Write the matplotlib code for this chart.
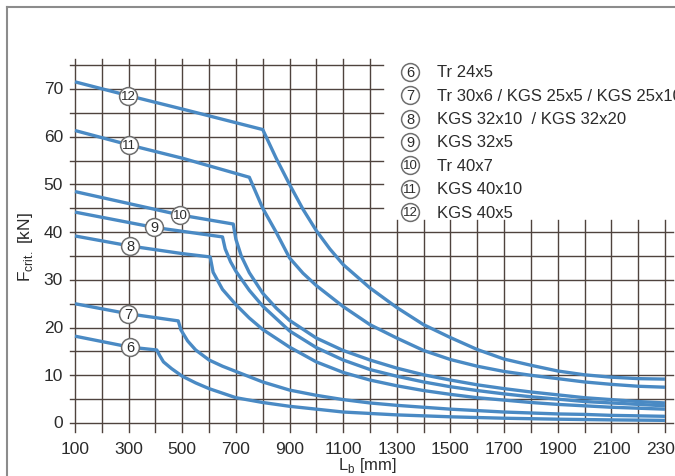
import matplotlib
matplotlib.use("Agg")
import matplotlib.pyplot as plt
from matplotlib.lines import Line2D

plt.rcParams["font.family"] = ["Liberation Sans", "DejaVu Sans"]
plt.rcParams["mathtext.fontset"] = "custom"
plt.rcParams["mathtext.rm"] = "Liberation Sans"

# Palette
LINE_COLOR = "#4a8ac4"
GRID_COLOR = "#4f433e"
TEXT_COLOR = "#2b2b2b"
FRAME_COLOR = "#8c8c8c"

# Data: L_b [mm] -> F_crit [kN]
x6 = [100, 305, 405, 415, 430, 460, 500, 550, 600, 700, 800, 900, 1000, 1100, 1200,
      1300, 1400, 1500, 1700, 1900, 2100, 2300]
y6 = [18.2, 15.9, 15.3, 14.2, 12.8, 11.4, 9.8, 8.4, 7.2, 5.3, 4.3, 3.5, 2.9, 2.3, 2.0,
      1.7, 1.5, 1.3, 1.0, 0.8, 0.65, 0.55]

x7 = [100, 298, 485, 495, 520, 550, 600, 650, 700, 800, 900, 1000, 1100, 1200, 1300,
      1400, 1500, 1600, 1700, 1800, 1900, 2000, 2100, 2200, 2300]
y7 = [25.0, 22.9, 21.4, 19.5, 17.2, 15.3, 13.2, 11.9, 10.8, 8.6, 6.9, 5.8, 4.9, 4.2, 3.7,
      3.3, 2.9, 2.6, 2.3, 2.1, 1.9, 1.8, 1.6, 1.5, 1.4]

x8 = [100, 305, 500, 604, 615, 650, 700, 750, 800, 900, 1000, 1100, 1200, 1300, 1400,
      1500, 1600, 1700, 1800, 1900, 2000, 2100, 2200, 2300]
y8 = [39.2, 37.1, 35.5, 34.8, 31.6, 28.0, 24.8, 22.0, 19.6, 15.9, 12.8, 10.6, 9.0, 7.8, 6.8,
      6.0, 5.3, 4.8, 4.3, 3.9, 3.6, 3.3, 3.1, 2.9]

x9 = [100, 395, 650, 660, 680, 700, 750, 800, 900, 1000, 1100, 1200, 1300, 1400, 1500,
      1600, 1700, 1800, 1900, 2000, 2100, 2200, 2300]
y9 = [44.2, 41.0, 39.0, 36.5, 33.8, 31.8, 27.8, 24.5, 19.3, 15.8, 13.2, 11.2, 9.8, 8.6, 7.6,
      6.8, 6.1, 5.5, 5.0, 4.5, 4.2, 3.9, 3.6]

x10 = [100, 492, 690, 700, 720, 750, 800, 850, 900, 1000, 1100, 1200, 1300, 1400, 1500,
       1600, 1700, 1800, 1900, 2000, 2100, 2200, 2300]
y10 = [48.5, 43.6, 41.7, 38.5, 35.0, 31.5, 27.2, 24.1, 21.5, 17.8, 15.2, 13.2, 11.5, 10.1, 9.0,
       8.0, 7.2, 6.5, 5.9, 5.3, 4.9, 4.5, 4.2]

x11 = [100, 300, 500, 750, 800, 850, 900, 950, 1000, 1100, 1200, 1300, 1400, 1500, 1600,
       1700, 1800, 1900, 2000, 2100, 2200, 2300]
y11 = [61.3, 58.3, 55.5, 51.5, 45.0, 40.0, 34.6, 31.4, 28.8, 24.4, 20.6, 17.8, 15.2, 13.3, 11.9,
       10.8, 10.0, 9.3, 8.6, 8.1, 7.7, 7.5]

x12 = [100, 300, 500, 800, 850, 900, 950, 1000, 1050, 1100, 1200, 1300, 1400, 1500, 1600,
       1700, 1800, 1900, 2000, 2100, 2200, 2300]
y12 = [71.5, 68.6, 65.8, 61.5, 55.5, 50.0, 44.8, 40.3, 36.5, 33.2, 28.3, 24.2, 20.6, 17.9, 15.4,
       13.4, 12.1, 10.9, 10.1, 9.6, 9.3, 9.2]

curve_ids = ["6", "7", "8", "9", "10", "11", "12"]
curve_x = [x6, x7, x8, x9, x10, x11, x12]
curve_y = [y6, y7, y8, y9, y10, y11, y12]
label_x = [305, 298, 305, 395, 492, 300, 298]
label_y = [15.9, 22.9, 37.1, 41.0, 43.6, 58.3, 68.6]

legend_names = ["Tr 24x5", "Tr 30x6 / KGS 25x5 / KGS 25x10", "KGS 32x10  / KGS 32x20",
                "KGS 32x5", "Tr 40x7", "KGS 40x10", "KGS 40x5"]
legend_y = [73.6, 68.7, 63.8, 58.9, 54.0, 49.1, 44.2]

x_ticks = list(range(100, 2400, 200))
y_ticks = list(range(0, 80, 10))

fig = plt.figure(figsize=(6.75, 4.77), dpi=100)
fig.patch.set_facecolor("white")
ax = fig.add_axes([75 / 675, 53 / 477, 590 / 675, 334 / 477])
ax.set_xlim(100, 2300)
ax.set_ylim(0, 70)
ax.axis("off")

# grid with a cut-out in the upper right for the legend
for xv in range(100, 2400, 100):
    top = 76.3 if xv <= 1200 else 42.5
    ax.plot([xv, xv], [-1.8, top], color=GRID_COLOR, lw=1.0, clip_on=False, zorder=1)
for yv in range(0, 80, 5):
    right = 1250 if yv >= 45 else 2328
    ax.plot([81, right], [yv, yv], color=GRID_COLOR, lw=1.0, clip_on=False, zorder=1)

# curves
for cx, cy in zip(curve_x, curve_y):
    ax.plot(cx, cy, color=LINE_COLOR, lw=2.4, clip_on=False, zorder=3,
            solid_joinstyle="round", solid_capstyle="butt")


def circled(x, y, cid):
    ax.scatter([x], [y], s=165, facecolor="white", edgecolor="#6e6e6e",
               linewidth=1.1, zorder=4, clip_on=False)
    ax.text(x, y, cid, fontsize=10.5 if len(cid) == 1 else 9.5, color=TEXT_COLOR,
            ha="center", va="center", zorder=5)


# numbered circles on the curves
for cid, lx, ly in zip(curve_ids, label_x, label_y):
    circled(lx, ly, cid)

# legend
for cid, name, ly in zip(curve_ids, legend_names, legend_y):
    circled(1349, ly, cid)
    ax.text(1450, ly, name, fontsize=12, color=TEXT_COLOR, ha="left", va="center",
            zorder=5, clip_on=False)

# tick labels
for xv in x_ticks:
    ax.text(xv, -5.3, str(xv), fontsize=12.5, color=TEXT_COLOR, ha="center",
            va="center", clip_on=False)
for yv in y_ticks:
    ax.text(55, yv, str(yv), fontsize=12.5, color=TEXT_COLOR, ha="right",
            va="center", clip_on=False)

ax.text(1190, -8.7, r"L$_\mathrm{b}$ [mm]", fontsize=12, color=TEXT_COLOR,
        ha="center", va="center", clip_on=False)
ax.text(-84, 37, r"F$_\mathrm{crit.}$ [kN]", fontsize=12.5, color=TEXT_COLOR,
        ha="center", va="center", rotation=90, clip_on=False)

# open frame (left and top)
fig.add_artist(Line2D([7 / 675, 7 / 675], [0, 1 - 8 / 477], color=FRAME_COLOR, lw=1.5))
fig.add_artist(Line2D([7 / 675, 1], [1 - 8 / 477, 1 - 8 / 477], color=FRAME_COLOR, lw=1.5))

fig.savefig("out.png", dpi=100, facecolor="white")
